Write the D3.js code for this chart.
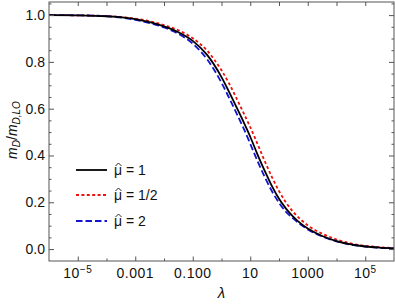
<!DOCTYPE html>
<html><head><meta charset="utf-8">
<script src="https://cdn.jsdelivr.net/npm/d3@7"></script>
<style>
body{margin:0;background:#fff;}
text{font-family:"Liberation Sans",Arial,sans-serif;}
</style></head>
<body><svg id="c" width="395" height="306"></svg>
<script>
// log10(lambda) sample positions
const logLambda = [-6,-5,-4,-3,-2.5,-2,-1.5,-1,-0.5,0,0.25,0.5,0.75,1,1.25,1.5,1.75,2,2.25,2.5,2.75,3,3.5,4,4.5,5,5.5,6];
const muHat1    = [1.000,0.999,0.995,0.983,0.970,0.952,0.927,0.890,0.830,0.735,0.675,0.612,0.548,0.480,0.405,0.335,0.270,0.215,0.172,0.138,0.110,0.088,0.056,0.034,0.020,0.011,0.006,0.003];
const muHatHalf = [1.000,0.999,0.996,0.985,0.974,0.957,0.935,0.901,0.848,0.764,0.711,0.650,0.586,0.521,0.450,0.377,0.309,0.248,0.198,0.158,0.127,0.101,0.066,0.041,0.024,0.014,0.008,0.004];
const muHat2    = [1.000,0.999,0.995,0.980,0.966,0.947,0.920,0.878,0.811,0.711,0.650,0.586,0.521,0.450,0.377,0.309,0.248,0.198,0.158,0.130,0.105,0.084,0.054,0.033,0.019,0.011,0.005,0.003];
const seriesNames = ["= 1","= 1/2","= 2"];
const xMajorTicks = [1e-5,1e-3,1e-1,1e1,1e3,1e5];
const xMajorLabels = [["10","−5"],["0.001",""],["0.100",""],["10",""],["1000",""],["10","5"]];
const xMinorTicks = [1e-4,1e-2,1,1e2,1e4];
const yTicks = [0,0.2,0.4,0.6,0.8,1.0];
const yLabels = ["0.0","0.2","0.4","0.6","0.8","1.0"];

const svg = d3.select("#c");
const L=49,R=394,T=2,B=261;
const x = d3.scaleLog().domain([1e-6,1e6]).range([L,R]);
const y = d3.scaleLinear().domain([-0.051,1.056]).range([B,T]);
const frameCol="#555";

svg.append("clipPath").attr("id","clip").append("rect").attr("x",L).attr("y",T).attr("width",R-L).attr("height",B-T);

const series = [
  {vals:muHat1, color:"#000", dash:null, w:1.8},
  {vals:muHatHalf, color:"#ee1111", dash:"3,2.4", w:1.8},
  {vals:muHat2, color:"#1515d0", dash:"6.5,3", w:1.8}
];
const line = d3.line().x(d=>x(Math.pow(10,d[0]))).y(d=>y(d[1])).curve(d3.curveMonotoneX);
const g = svg.append("g").attr("clip-path","url(#clip)");
[series[1],series[2],series[0]].forEach(s=>{
  g.append("path").datum(logLambda.map((l,i)=>[l,s.vals[i]]))
   .attr("d",line).attr("fill","none").attr("stroke",s.color)
   .attr("stroke-width",s.w).attr("stroke-dasharray",s.dash);
});

// frame
const allDecades = d3.range(-5,6).map(e=>Math.pow(10,e));
const yMinor = d3.range(0,1.051,0.05).filter(v=>Math.abs(v*5-Math.round(v*5))>1e-6);
svg.append("rect").attr("x",L).attr("y",T).attr("width",R-L).attr("height",B-T)
  .attr("stroke",frameCol).attr("fill","none").attr("stroke-width",1);
svg.append("g").attr("transform",`translate(0,${B})`)
  .call(d3.axisBottom(x).tickValues(xMajorTicks).tickSize(-4.5).tickFormat(""));
svg.append("g").attr("transform",`translate(0,${B})`)
  .call(d3.axisBottom(x).tickValues(xMinorTicks).tickSize(-2.5).tickFormat(""));
svg.append("g").attr("transform",`translate(0,${T})`)
  .call(d3.axisTop(x).tickValues(allDecades).tickSize(-4).tickFormat(""));
svg.append("g").attr("transform",`translate(${L},0)`)
  .call(d3.axisLeft(y).tickValues(yTicks).tickSize(-5).tickFormat(""));
svg.append("g").attr("transform",`translate(${L},0)`)
  .call(d3.axisLeft(y).tickValues(yMinor).tickSize(-2.5).tickFormat(""));
svg.append("g").attr("transform",`translate(${R},0)`)
  .call(d3.axisRight(y).tickValues(yTicks).tickSize(-5).tickFormat(""));
svg.append("g").attr("transform",`translate(${R},0)`)
  .call(d3.axisRight(y).tickValues(yMinor).tickSize(-2.5).tickFormat(""));
svg.selectAll(".domain").remove();
svg.selectAll(".tick line").attr("stroke",frameCol);

// x tick labels
xMajorTicks.forEach((v,i)=>{
  const t = svg.append("text").attr("x",x(v)).attr("y",278).attr("text-anchor","middle")
    .attr("font-size",14).attr("letter-spacing",0.5).attr("fill","#111");
  t.append("tspan").text(xMajorLabels[i][0]);
  if(xMajorLabels[i][1]) t.append("tspan").attr("dy",-5.5).attr("font-size",10).text(xMajorLabels[i][1]);
});
// y tick labels
yTicks.forEach((v,i)=>{
  svg.append("text").attr("x",45).attr("y",y(v)+5).attr("text-anchor","end")
    .attr("font-size",14).attr("fill","#111").text(yLabels[i]);
});
// axis titles
svg.append("text").attr("x",(L+R)/2).attr("y",298).attr("text-anchor","middle")
  .attr("font-size",15).attr("font-style","italic").attr("fill","#111").text("λ");
const yl = svg.append("text").attr("transform","translate(17,130) rotate(-90)")
  .attr("text-anchor","middle").attr("font-size",14).attr("fill","#111");
yl.append("tspan").attr("font-style","italic").text("m");
yl.append("tspan").attr("font-style","italic").attr("font-size",10).attr("dy",3).text("D");
yl.append("tspan").attr("dy",-3).text("/");
yl.append("tspan").attr("font-style","italic").text("m");
yl.append("tspan").attr("font-style","italic").attr("font-size",10).attr("dy",3).text("D,LO");

// legend
const legY=[170,195,221];
series.forEach((s,i)=>{
  svg.append("line").attr("x1",76).attr("x2",107).attr("y1",legY[i]).attr("y2",legY[i])
    .attr("stroke",s.color).attr("stroke-width",s.w).attr("stroke-dasharray",s.dash);
  svg.append("text").attr("x",114).attr("y",legY[i]+5).attr("font-size",14).attr("fill","#111").text("μ");
  const by = legY[i]+5;
  svg.append("path").attr("d",`M${115.5},${by-9} L${118.5},${by-12} L${121.5},${by-9}`)
    .attr("fill","none").attr("stroke","#111").attr("stroke-width",0.9);
  svg.append("text").attr("x",126).attr("y",legY[i]+5).attr("font-size",14).attr("fill","#111")
    .text(seriesNames[i]);
});
</script></body></html>
